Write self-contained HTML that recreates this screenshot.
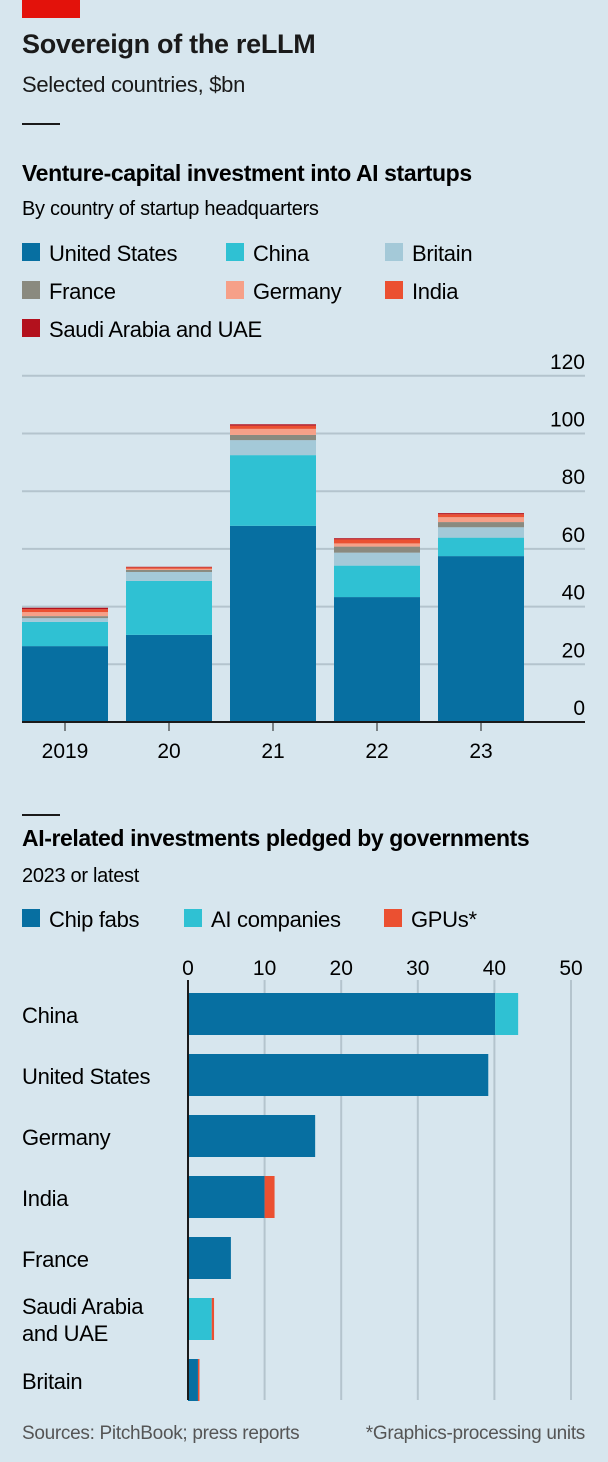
<!DOCTYPE html>
<html><head><meta charset="utf-8"><style>
body{margin:0;width:608px;height:1462px;background:#d7e6ee;font-family:"Liberation Sans",sans-serif;color:#1a1a1a;overflow:hidden;position:relative}
.t{position:absolute;white-space:nowrap}
</style></head><body>
<div style="position:absolute;left:22px;top:0;width:58px;height:18px;background:#e3120b"></div>
<div class="t" style="left:22px;top:29px;font-size:27px;font-weight:bold;letter-spacing:-0.3px">Sovereign of the reLLM</div>
<div class="t" style="left:22px;top:72px;font-size:22px;letter-spacing:-0.3px">Selected countries, $bn</div>
<svg id="svg" width="608" height="1462" style="position:absolute;left:0;top:0" font-family="Liberation Sans, sans-serif"></svg>
<script>
const years=["2019","20","21","22","23"];
const seriesNames=["United States","China","Britain","France","Germany","India","Saudi Arabia and UAE"];
const us=[26.3,30.2,68,43.3,57.5];
const china=[8.4,18.7,24.5,10.9,6.4];
const britain=[1.3,3.1,5.2,4.5,3.6];
const france=[0.7,0.7,1.8,2.1,1.8];
const germany=[1.4,0.4,2.1,1.1,1.7];
const india=[1.0,0.5,1.1,1.4,1.0];
const saudi=[0.5,0.2,0.5,0.4,0.4];
const yTicks=[0,20,40,60,80,100,120];
const countries=["China","United States","Germany","India","France","Saudi Arabia|and UAE","Britain"];
const fabs=[40.1,39.2,16.6,10.0,5.6,0,1.3];
const aico=[3.0,0,0,0,0,3.1,0];
const gpus=[0,0,0,1.3,0,0.3,0.2];
const xTicks=[0,10,20,30,40,50];
const colors=["#076fa1","#2fc1d3","#a4c9d8","#8a8a7f","#f6a088","#eb5031","#b3111d"];
const svg=document.getElementById('svg');const NS="http://www.w3.org/2000/svg";
function el(t,a,txt){const e=document.createElementNS(NS,t);for(const k in a)e.setAttribute(k,a[k]);if(txt!==undefined)e.textContent=txt;svg.appendChild(e);return e;}
let r=el('rect',{x:22,y:123,width:38,height:2,fill:'#1a1a1a'});


r=el('rect',{x:22,y:814,width:38,height:2,fill:'#1a1a1a'});


let t=el('text',{x:22,y:181,'font-size':23,'font-weight':'bold','letter-spacing':'-0.4'},'Venture-capital investment into AI startups');


t=el('text',{x:22,y:215,'font-size':20,'letter-spacing':'-0.3'},'By country of startup headquarters');


const legPos=[[22,261],[226,261],[385,261],[22,299],[226,299],[385,299],[22,337]];
seriesNames.forEach((n,i)=>{const [lx,ly]=legPos[i];
 let s=el('rect',{x:lx,y:ly-18,width:18,height:18,fill:colors[i]});
 
 
 let tx=el('text',{x:lx+27,y:ly,'font-size':22,'letter-spacing':'-0.3'},n);
 
 });
const y0=722,py=2.885;const Y=v=>y0-v*py;
yTicks.forEach(v=>{ if(v>0){let g=el('line',{x1:22,x2:585,y1:Y(v),y2:Y(v),stroke:'#b4c4cd','stroke-width':2});
 
 }
 let l=el('text',{x:585,y:Y(v)-7,'font-size':21,'text-anchor':'end'},String(v));
 
 });
const stacks=[us,china,britain,france,germany,india,saudi];
years.forEach((yr,i)=>{const bx=22+i*104;let base=0;
 stacks.forEach((s,k)=>{const v=s[i];let b=el('rect',{x:bx,y:Y(base+v),width:86,height:v*py,fill:colors[k]});
 
 base+=v;});
 let l=el('text',{x:bx+43,y:758,'font-size':21,'text-anchor':'middle'},yr);
 
 
 let tk=el('line',{x1:bx+43,x2:bx+43,y1:722,y2:731,stroke:'#1a1a1a','stroke-width':1});
 
 });
let ax=el('line',{x1:22,x2:585,y1:722,y2:722,stroke:'#1a1a1a','stroke-width':2});


t=el('text',{x:22,y:846,'font-size':23,'font-weight':'bold','letter-spacing':'-0.4'},'AI-related investments pledged by governments');


t=el('text',{x:22,y:882,'font-size':20,'letter-spacing':'-0.3'},'2023 or latest');


const bleg=["Chip fabs","AI companies","GPUs*"],bcol=["#076fa1","#2fc1d3","#eb5031"],bx=[22,184,384];
bleg.forEach((n,i)=>{let s=el('rect',{x:bx[i],y:909,width:18,height:18,fill:bcol[i]});
 
 
 let tx=el('text',{x:bx[i]+27,y:927,'font-size':22,'letter-spacing':'-0.3'},n);
 
 });
const x0=188,px=7.66;const X=v=>x0+v*px;
xTicks.forEach(v=>{ if(v>0){let g=el('line',{x1:X(v),x2:X(v),y1:980,y2:1400,stroke:'#b4c4cd','stroke-width':2});
 
 }
 let l=el('text',{x:X(v),y:975,'font-size':21,'text-anchor':'middle'},String(v));
 
 });
const hs=[fabs,aico,gpus];
countries.forEach((c,i)=>{const by=993+i*61;let base=0;
 hs.forEach((s,k)=>{const v=s[i];if(v>0){let b=el('rect',{x:X(base),y:by,width:v*px,height:42,fill:bcol[k]});
 
 }base+=v;});
 const parts=c.split('|');
 parts.forEach((p,j)=>{let l=el('text',{x:22,y:(parts.length>1?by+16+j*27:by+30),'font-size':22,'letter-spacing':'-0.3'},p);
 
 });});
ax=el('line',{x1:188,x2:188,y1:980,y2:1400,stroke:'#1a1a1a','stroke-width':2});


t=el('text',{x:22,y:1439,'font-size':19,fill:'#555','letter-spacing':'-0.3'},'Sources: PitchBook; press reports');


t=el('text',{x:585,y:1439,'font-size':19,fill:'#555','text-anchor':'end','letter-spacing':'-0.3'},'*Graphics-processing units');


</script>
</body></html>
